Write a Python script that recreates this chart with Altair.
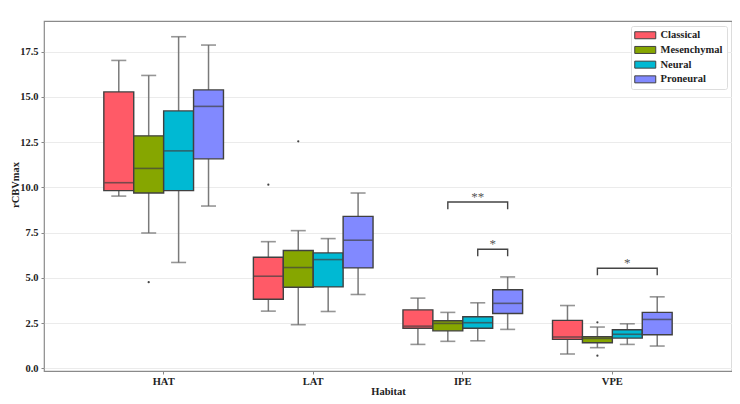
import altair as alt
import pandas as pd

habitats = ["HAT", "LAT", "IPE", "VPE"]
subtypes = ["Classical", "Mesenchymal", "Neural", "Proneural"]
palette = ["#FF5A67", "#86A600", "#00B9D3", "#8189FF"]

# box statistics per habitat, in subtype order (Classical, Mesenchymal, Neural, Proneural)
whisker_low = {"HAT": [9.52, 7.48, 5.85, 8.97], "LAT": [3.16, 2.41, 3.14, 4.08],
               "IPE": [1.32, 1.49, 1.52, 2.15], "VPE": [0.79, 1.14, 1.32, 1.23]}
quart1 = {"HAT": [9.82, 9.69, 9.82, 11.58], "LAT": [3.82, 4.48, 4.50, 5.55],
          "IPE": [2.21, 2.07, 2.21, 3.03], "VPE": [1.60, 1.41, 1.67, 1.85]}
median = {"HAT": [10.26, 11.05, 12.02, 14.48], "LAT": [5.09, 5.57, 6.01, 7.08],
          "IPE": [2.33, 2.48, 2.52, 3.59], "VPE": [1.73, 1.65, 1.88, 2.70]}
quart3 = {"HAT": [15.28, 12.85, 14.23, 15.39], "LAT": [6.14, 6.51, 6.38, 8.40],
          "IPE": [3.23, 2.63, 2.85, 4.34], "VPE": [2.65, 1.74, 2.13, 3.09]}
whisker_high = {"HAT": [17.02, 16.19, 18.33, 17.87], "LAT": [7.00, 7.61, 7.17, 9.69],
                "IPE": [3.88, 3.09, 3.62, 5.05], "VPE": [3.47, 2.28, 2.46, 3.95]}

outlier_habitat = ["HAT", "LAT", "LAT", "VPE", "VPE"]
outlier_subtype = ["Mesenchymal", "Classical", "Mesenchymal", "Mesenchymal", "Mesenchymal"]
outlier_value = [4.76, 10.15, 12.55, 2.54, 0.70]

# significance brackets
br_habitat = ["IPE", "IPE", "VPE"]
br_from = ["Mesenchymal", "Neural", "Mesenchymal"]
br_to = ["Proneural", "Proneural", "Proneural"]
br_top = [9.19, 6.58, 5.53]
br_leg = [8.79, 6.19, 5.15]
br_label = ["**", "*", "*"]

rows = []
for h in habitats:
    for i, s in enumerate(subtypes):
        rows.append(dict(Habitat=h, Subtype=s, low=whisker_low[h][i], q1=quart1[h][i],
                         med=median[h][i], q3=quart3[h][i], high=whisker_high[h][i]))
box = pd.DataFrame(rows)

outl = pd.DataFrame(dict(Habitat=outlier_habitat, Subtype=outlier_subtype, v=outlier_value))

brows = []
for k in range(len(br_habitat)):
    pts = [(br_from[k], br_leg[k]), (br_from[k], br_top[k]), (br_to[k], br_top[k]), (br_to[k], br_leg[k])]
    for j, (s, v) in enumerate(pts):
        brows.append(dict(id=k, Habitat=br_habitat[k], Subtype=s, v=v, o=j))
brk = pd.DataFrame(brows)

txt_full = pd.DataFrame(dict(Habitat=[br_habitat[0], br_habitat[2]], Subtype=["Neural", "Neural"],
                             v=[br_top[0], br_top[2]], label=[br_label[0], br_label[2]]))
txt_half = pd.DataFrame(dict(Habitat=[br_habitat[1]], Subtype=["Proneural"], v=[br_top[1]],
                             label=[br_label[1]]))

FONT = "Liberation Serif"

x = alt.X("Habitat:N", sort=habitats,
          scale=alt.Scale(domain=habitats, paddingInner=0.2, paddingOuter=0.4),
          axis=alt.Axis(title="Habitat", labelAngle=0, grid=False, ticks=True, tickSize=3,
                        domain=False, labelPadding=2, labelBaseline="top",
                        titleY=23, titleBaseline="alphabetic"))
xo = alt.XOffset("Subtype:N", scale=alt.Scale(domain=subtypes, paddingInner=0, paddingOuter=0))
yscale = alt.Scale(domain=[-0.15, 19.2], nice=False, zero=False)
yaxis = alt.Axis(title="rCBVmax", values=[0, 2.5, 5, 7.5, 10, 12.5, 15, 17.5], format=".1f",
                 grid=True, gridColor="#EBEBEB", tickSize=3, domain=False, labelPadding=3,
                 titleX=-26, titleY=163.5, titleAngle=-90, titleAlign="center",
                 titleBaseline="alphabetic")

wl = alt.Chart(box).mark_rule(color="#7a7a7a", strokeWidth=1.5).encode(
    x=x, xOffset=xo, y=alt.Y("low:Q", scale=yscale, axis=yaxis), y2="q1:Q")
wh = alt.Chart(box).mark_rule(color="#7a7a7a", strokeWidth=1.5).encode(
    x=x, xOffset=xo, y=alt.Y("q3:Q", scale=yscale), y2="high:Q")
capl = alt.Chart(box).mark_tick(color="#6a6a6a", size=15, thickness=1.6).encode(
    x=x, xOffset=xo, y=alt.Y("low:Q", scale=yscale))
caph = alt.Chart(box).mark_tick(color="#6a6a6a", size=15, thickness=1.6).encode(
    x=x, xOffset=xo, y=alt.Y("high:Q", scale=yscale))
bars = alt.Chart(box).mark_bar(stroke="#404040", strokeWidth=1.4, opacity=1).encode(
    x=x, xOffset=xo, y=alt.Y("q1:Q", scale=yscale), y2="q3:Q",
    color=alt.Color("Subtype:N", scale=alt.Scale(domain=subtypes, range=palette),
                    legend=alt.Legend(title=None, orient="none", legendX=587, legendY=5,
                                      symbolType="M-3,-1L3,-1L3,1L-3,1Z",
                                      symbolSize=49, symbolOffset=5,
                                      symbolStrokeColor="#404040", symbolStrokeWidth=1,
                                      labelFont=FONT, labelFontWeight="bold",
                                      labelFontSize=10.5, labelColor="#222",
                                      labelOffset=10, rowPadding=2.7,
                                      padding=4, strokeColor="#DDDDDD", fillColor="white",
                                      cornerRadius=2)))
meds = alt.Chart(box).mark_tick(color="#404040", size=29, thickness=1.6).encode(
    x=x, xOffset=xo, y=alt.Y("med:Q", scale=yscale))
pts = alt.Chart(outl).mark_point(filled=True, size=5, color="#444444", opacity=1).encode(
    x=x, xOffset=xo, y=alt.Y("v:Q", scale=yscale))
lines = alt.Chart(brk).mark_line(color="#444444", strokeWidth=1.4).encode(
    x=x, xOffset=xo, y=alt.Y("v:Q", scale=yscale), detail="id:N", order="o:Q")
t1 = alt.Chart(txt_full).mark_text(font=FONT, fontSize=13, fill="#555555", baseline="alphabetic",
                                   dy=-1).encode(
    x=x, xOffset=xo, y=alt.Y("v:Q", scale=yscale), text="label:N")
t2 = alt.Chart(txt_half).mark_text(font=FONT, fontSize=13, fill="#555555", baseline="alphabetic",
                                   dy=-1, dx=-15).encode(
    x=x, xOffset=xo, y=alt.Y("v:Q", scale=yscale), text="label:N")

chart = alt.layer(wl, wh, capl, caph, bars, meds, pts, lines, t1, t2).properties(
    width=688, height=350,
    autosize=alt.AutoSizeParams(type="none"),
    padding={"left": 36, "top": 13, "right": 0, "bottom": 25},
).configure_axis(
    labelFont=FONT, labelFontWeight="bold", labelFontSize=10.5, labelColor="#222222",
    titleFont=FONT, titleFontWeight="bold", titleFontSize=10.5, titleColor="#222222",
    tickColor="#888888"
).configure_view(stroke="#8a8a8a", strokeWidth=1.2)

chart.save("out.html", embed_options={"renderer": "svg", "actions": False})
